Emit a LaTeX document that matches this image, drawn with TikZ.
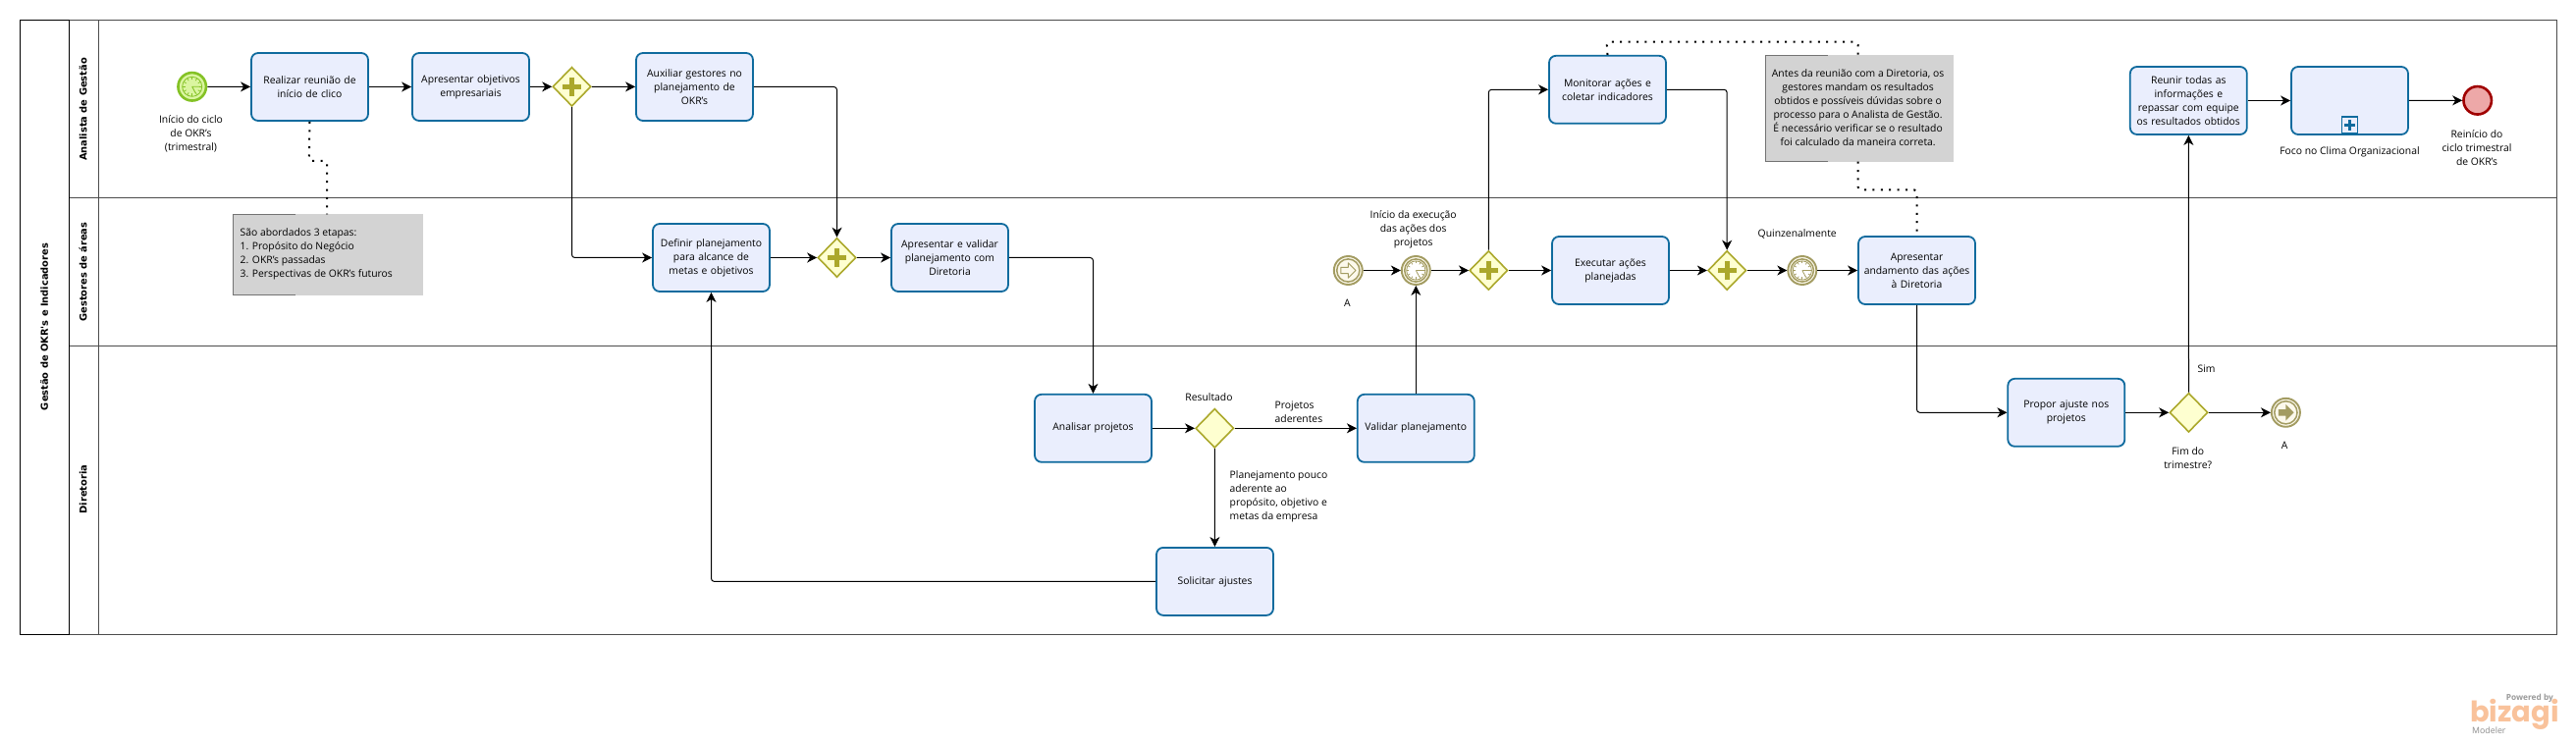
\documentclass[tikz,border=0pt]{standalone}
\usepackage{fontspec}
\setmainfont{Open Sans}
\newfontfamily\lanefont{DejaVu Sans}
\newfontfamily\logofont{Poppins}
\usetikzlibrary{arrows.meta,shapes.geometric,calc}
\definecolor{taskline}{HTML}{0F6B9E}
\definecolor{taskfill}{HTML}{EAEEFD}
\definecolor{gateline}{HTML}{ABA82B}
\definecolor{gatefill}{HTML}{FEFFD0}
\definecolor{ringc}{HTML}{A39C62}
\definecolor{ringf}{HTML}{FCF9EC}
\definecolor{notef}{HTML}{D3D3D3}
\definecolor{startc}{HTML}{84C225}
\definecolor{startf}{HTML}{DAF5A0}
\tikzset{
  x=1pt,y=-1pt,
  txt/.style={font=\fontsize{10.35}{14}\selectfont,align=center,inner sep=0pt,text=black},
  txtl/.style={txt,align=left,anchor=west},
  task/.style={draw=taskline,fill=taskfill,line width=1.8pt,rounded corners=7pt,minimum width=119pt,minimum height=69pt,txt,text width=112pt},
  gate/.style={diamond,draw=gateline,fill=gatefill,line width=1.6pt,minimum width=39pt,minimum height=40pt,inner sep=0pt,aspect=1},
  iev/.style={circle,draw=ringc,fill=ringf,line width=1.9pt,minimum size=29pt,inner sep=0pt},
  flow/.style={draw=black,line width=1pt,rounded corners=3pt,-{Stealth[length=10pt,width=10pt,inset=3pt]}},
  assoc/.style={draw=black,line width=2pt,rounded corners=3pt,dash pattern=on 2pt off 6.4pt},
  note/.style={fill=notef,draw=none,inner sep=0pt},
  lane/.style={font=\fontsize{9.85}{13}\bfseries\lanefont\selectfont,rotate=90,inner sep=0pt,text=black},
  plusg/.pic={\fill[gateline] (-9.5,-2.7) rectangle (9.5,2.7);\fill[gateline] (-2.7,-9.5) rectangle (2.7,9.5);},
  ringinner/.pic={\draw[ringc,line width=1.5pt,fill=ringf] (0,0) circle (11.6pt);},
  clockic/.pic={\draw[ringc,line width=.8pt,fill=white] (0,0) circle (9.6pt);
    \foreach \a in {0,30,...,330}{\draw[ringc,line width=.7pt] (\a:7pt) -- (\a:9.4pt);}
    \draw[ringc,line width=.8pt] (0,0) -- (8pt,0) (0,0) -- (3.5pt,-6.5pt);},
  clockst/.pic={\draw[startc,line width=.8pt,fill=startf] (0,0) circle (10pt);
    \foreach \a in {0,30,...,330}{\draw[startc,line width=.7pt] (\a:7pt) -- (\a:9.6pt);}
    \draw[startc,line width=.9pt] (0,0) -- (8pt,0) (0,0) -- (3.5pt,-6.5pt);},
}
\begin{document}
\begin{tikzpicture}
\useasboundingbox (0,0) rectangle (2624,759);
\fill[white] (0,0) rectangle (2624,759);
% pool
\draw[draw=black!70,line width=1.2pt] (20.5,20.5) rectangle (2604.5,646.5);
\draw[draw=black!70,line width=1.2pt] (70.7,201.5) -- (2604.5,201.5) (70.7,352.5) -- (2604.5,352.5) (100.6,20.5) -- (100.6,646.5);
\draw[draw=black,line width=1.2pt] (20.5,20.5) rectangle (70.7,646.5);
\node[lane] (poolt) at (45,333) {Gestão de OKR's e Indicadores};
\node[lane] (l1) at (84.6,111.5) {Analista de Gestão};
\node[lane] (l2) at (84.6,277) {Gestores de áreas};
\node[lane] (l3) at (84.6,498.5) {Diretoria};
% nodes
\node[circle,draw=startc,fill=startf,line width=2.6pt,minimum size=28.5pt,inner sep=0pt] (st) at (195.7,88.3) {};
\node[task] (t1) at (315.5,88.5) {Realizar reunião de\\início de clico};
\node[task] (t2) at (479.5,88.5) {Apresentar objetivos\\empresariais};
\node[gate] (g1) at (582.5,88.3) {};
\node[task] (t3) at (707.5,88.5) {Auxiliar gestores no\\planejamento de\\OKR's};
\node[task] (t4) at (724.5,262.5) {Definir planejamento\\para alcance de\\metas e objetivos};
\node[gate] (g2) at (852.5,262.5) {};
\node[task] (t5) at (967.5,262.5) {Apresentar e validar\\planejamento com\\Diretoria};
\node[task] (t6) at (1113.5,436.3) {Analisar projetos};
\node[gate] (g3) at (1237.3,436.3) {};
\node[task] (t7) at (1237.5,592.4) {Solicitar ajustes};
\node[task] (t8) at (1442.3,436.3) {Validar planejamento};
\node[iev] (lk1) at (1373.3,275.5) {};
\node[iev] (tm1) at (1442.3,275.5) {};
\node[gate] (g4) at (1516.3,275.5) {};
\node[task] (t9) at (1637.5,91.3) {Monitorar ações e\\coletar indicadores};
\node[task] (t10) at (1640.5,275.5) {Executar ações\\planejadas};
\node[gate] (g5) at (1759.2,275.5) {};
\node[iev] (tm2) at (1835.8,275.5) {};
\node[task] (t11) at (1952.5,275.5) {Apresentar\\andamento das ações\\à Diretoria};
\node[task] (t12) at (2104.8,420.3) {Propor ajuste nos\\projetos};
\node[gate] (g6) at (2229.5,420.3) {};
\node[iev] (lk2) at (2328.4,420.3) {};
\node[task] (t13) at (2229.3,102.5) {Reunir todas as\\informações e\\repassar com equipe\\os resultados obtidos};
\node[task] (t14) at (2393.5,102.5) {};
\node[circle,draw={rgb,255:red,160;green,0;blue,0},fill={rgb,255:red,237;green,168;blue,168},line width=2.6pt,minimum size=28.5pt,inner sep=0pt] (en) at (2523.7,102.3) {};
% icons
\pic at (st) {clockst};
\foreach \g in {g1,g2,g4,g5}{\pic at (\g) {plusg};}
\foreach \e in {lk1,tm1,tm2,lk2}{\pic at (\e) {ringinner};}
\pic at (tm1) {clockic};
\pic at (tm2) {clockic};
\draw[ringc,line width=1pt,fill=ringf,line join=round] ($(lk1)+(-7.5,-3.2)$) -- ++(7.5,0) -- ++(0,-4.5) -- ++(7.7,7.7) -- ++(-7.7,7.7) -- ++(0,-4.5) -- ++(-7.5,0) -- cycle;
\fill[ringc] ($(lk2)+(-7.5,-3.2)$) -- ++(7.5,0) -- ++(0,-5) -- ++(8.2,8.2) -- ++(-8.2,8.2) -- ++(0,-5) -- ++(-7.5,0) -- cycle;
\node[draw=taskline,fill=taskfill,line width=1.6pt,minimum width=16pt,minimum height=17pt,inner sep=0pt,anchor=south] (sub) at ($(t14.south)+(0,-.8)$) {};
\fill[taskline] ($(sub)+(-5.5,-1.6)$) rectangle ($(sub)+(5.5,1.6)$);
\fill[taskline] ($(sub)+(-1.6,-5.5)$) rectangle ($(sub)+(1.6,5.5)$);
% notes
\node[note,minimum width=193pt,minimum height=82.5pt,anchor=north west] (n1) at (237.4,218.3) {};
\draw[black!55,line width=1pt] ($(n1.north west)+(64,.5)$) -- ($(n1.north west)+(.5,.5)$) -- ($(n1.south west)+(.5,-.5)$) -- ($(n1.south west)+(64,-.5)$);
\node[note,minimum width=192.5pt,minimum height=108.7pt,anchor=north west] (n2) at (1797.5,56) {};
\draw[black!55,line width=1pt] ($(n2.north west)+(64,.5)$) -- ($(n2.north west)+(.5,.5)$) -- ($(n2.south west)+(.5,-.5)$) -- ($(n2.south west)+(64,-.5)$);
\node[txtl] (n1t) at (244.5,258.5) {São abordados 3 etapas:\\1. Propósito do Negócio\\2. OKR's passadas\\3. Perspectivas de OKR's futuros};
\node[txt] (n2t) at (1892.6,109.5) {Antes da reunião com a Diretoria, os\\gestores mandam os resultados\\obtidos e possíveis dúvidas sobre o\\processo para o Analista de Gestão.\\É necessário verificar se o resultado\\foi calculado da maneira correta.};
% coordinates
\coordinate (a1) at (314.8,164);
\coordinate (a2) at (333,164);
\coordinate (a3) at (333,218.3);
\coordinate (b1) at (1636.7,42.7);
\coordinate (b2) at (1892.6,42.7);
\coordinate (b3) at (1892.6,56);
\coordinate (c0) at (1892.6,164.7);
\coordinate (c1) at (1892.6,193.3);
\coordinate (c2) at (1952.5,193.3);
% flows
\draw[flow] (st) -- (t1);
\draw[flow] (t1) -- (t2);
\draw[flow] (t2) -- (g1);
\draw[flow] (g1) -- (t3);
\draw[flow] (g1.south) |- (t4.west);
\draw[flow] (t3.east) -| (g2.north);
\draw[flow] (t4) -- (g2);
\draw[flow] (g2) -- (t5);
\draw[flow] (t5.east) -| (t6.north);
\draw[flow] (t6) -- (g3);
\draw[flow] (g3) -- (t8);
\draw[flow] (g3) -- (t7);
\draw[flow] (t7.west) -| (t4.south);
\draw[flow] (t8.north) -- (tm1.south);
\draw[flow] (lk1) -- (tm1);
\draw[flow] (tm1) -- (g4);
\draw[flow] (g4.north) |- (t9.west);
\draw[flow] (g4) -- (t10);
\draw[flow] (t9.east) -| (g5.north);
\draw[flow] (t10) -- (g5);
\draw[flow] (g5) -- (tm2);
\draw[flow] (tm2) -- (t11);
\draw[flow] (t11.south) |- (t12.west);
\draw[flow] (t12) -- (g6);
\draw[flow] (g6) -- (lk2);
\draw[flow] (g6.north) -- (t13.south);
\draw[flow] (t13) -- (t14);
\draw[flow] (t14) -- (en);
% associations
\draw[assoc] (t1.south) -- (a1) -- (a2) -- (a3);
\draw[assoc] (t9.north) -- (b1) -- (b2) -- (b3);
\draw[assoc] (c0) -- (c1) -- (c2) -- (t11.north);
% labels
\node[txt] (la1) at (194.5,136) {Início do ciclo\\de OKR's\\(trimestral)};
\node[txt] (la2) at (2393.5,155.3) {Foco no Clima Organizacional};
\node[txt] (la3) at (2523,150.3) {Reinício do\\ciclo trimestral\\de OKR's};
\node[txt] (la4) at (1231.5,405) {Resultado};
\node[txtl] (la5) at (1298.5,420) {Projetos\\aderentes};
\node[txtl] (la6) at (1252.5,506.3) {Planejamento pouco\\aderente ao\\propósito, objetivo e\\metas da empresa};
\node[txt] (la7) at (1372.3,308.3) {A};
\node[txt] (la8) at (1439.7,234) {Início da execução\\das ações dos\\projetos};
\node[txt] (la9) at (1830.7,238.3) {Quinzenalmente};
\node[txt] (la10) at (2247.6,375.3) {Sim};
\node[txt] (la11) at (2228.7,466.3) {Fim do\\trimestre?};
\node[txt] (la12) at (2327,453.7) {A};
% logo
\node[font=\bfseries\fontsize{8.3}{10}\selectfont,text=black!40,anchor=east,inner sep=0pt] (lg1) at (2601,711.3) {Powered by};
\node[font=\logofont\bfseries\fontsize{29}{30}\selectfont,text={rgb,255:red,249;green,194;blue,155},anchor=base west,inner sep=0pt] (lg2) at (2516,735) {bizagi};
\node[font=\fontsize{8.8}{10}\selectfont,text=black!45,anchor=west,inner sep=0pt] (lg3) at (2518,744) {Modeler};
\end{tikzpicture}
\end{document}
